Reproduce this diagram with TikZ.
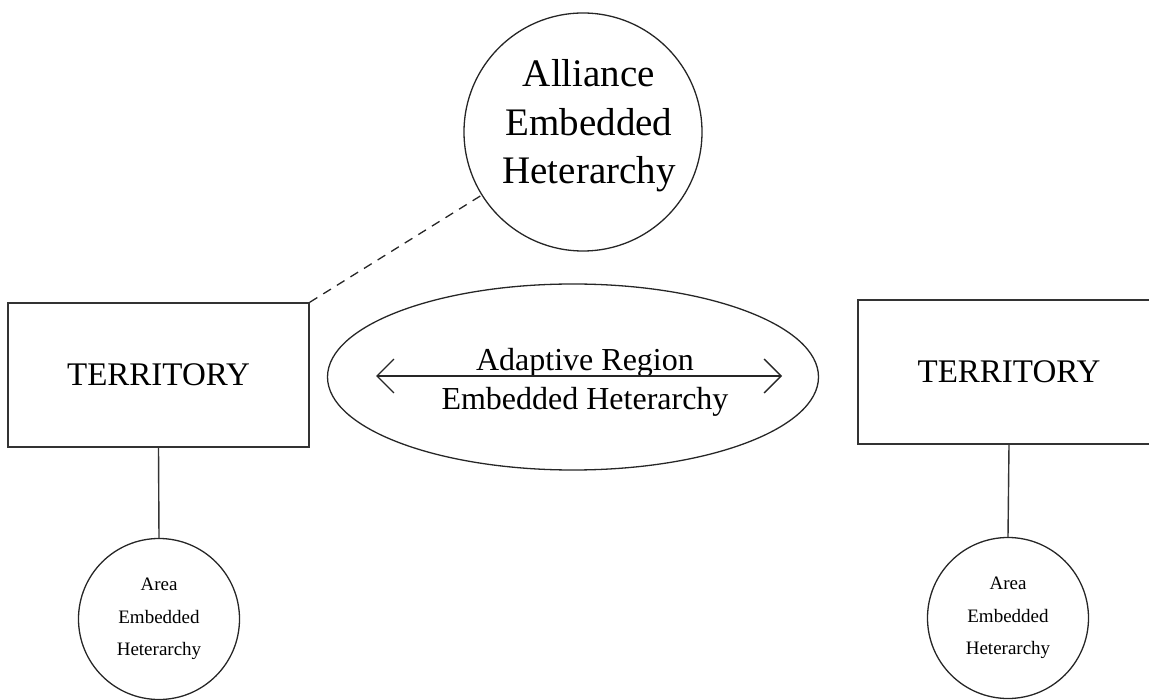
\documentclass[tikz,border=0pt]{standalone}
\usepackage{fontspec}
\setmainfont{Liberation Serif}
\usetikzlibrary{shapes.geometric,arrows.meta}
\tikzset{
  terrbox/.style={draw=black!80, line width=1.4pt, rectangle, inner sep=0pt,
    minimum width=301pt, minimum height=144pt, font=\fontsize{33}{40}\selectfont},
  bigcirc/.style={draw=black!85, line width=1.3pt, circle, inner sep=0pt, minimum size=238pt},
  smallcirc/.style={draw=black!85, line width=1.3pt, circle, inner sep=0pt, minimum size=161pt,
    align=center, font=\fontsize{19}{32.5}\selectfont},
  regionell/.style={draw=black!85, line width=1.3pt, ellipse, inner sep=0pt,
    minimum width=491pt, minimum height=186pt},
  txt/.style={inner sep=0pt, align=center},
  link/.style={draw=black!80, line width=1.4pt},
  dashlink/.style={draw=black!85, line width=1.3pt, dash pattern=on 9pt off 7pt},
  twoway/.style={draw=black!85, line width=1.3pt,
    {Straight Barb[length=17pt,width=34pt]}-{Straight Barb[length=17pt,width=34pt]}}
}
\begin{document}
\begin{tikzpicture}[x=1pt,y=-1pt]
\useasboundingbox (0,0) rectangle (1149,700);
% territories
\node[terrbox] (terrL) at (158.5,375) {TERRITORY};
\node[terrbox, minimum width=302pt] (terrR) at (1009,372) {TERRITORY};
% alliance circle
\node[bigcirc] (alliance) at (583,132) {};
\node[txt, font=\fontsize{39}{48.5}\selectfont] (alliancetxt) at (589,126) {Alliance\\Embedded\\Heterarchy};
% adaptive region ellipse
\node[regionell] (region) at (573,377) {};
\node[txt, font=\fontsize{32}{39}\selectfont] (regiontxt) at (585,382) {Adaptive Region\\Embedded Heterarchy};
\coordinate (arrL) at (376,376);
\coordinate (arrR) at (782,376);
\draw[twoway] (arrL) -- (arrR);
% area circles
\node[smallcirc] (areaL) at (159,619) {Area\\Embedded\\Heterarchy};
\node[smallcirc] (areaR) at (1008,618) {Area\\Embedded\\Heterarchy};
% connectors
\draw[dashlink] (terrL.north east) -- (alliance);
\draw[link] (terrL.south) -- (areaL.north);
\draw[link] (terrR.south) -- (areaR.north);
\end{tikzpicture}
\end{document}
